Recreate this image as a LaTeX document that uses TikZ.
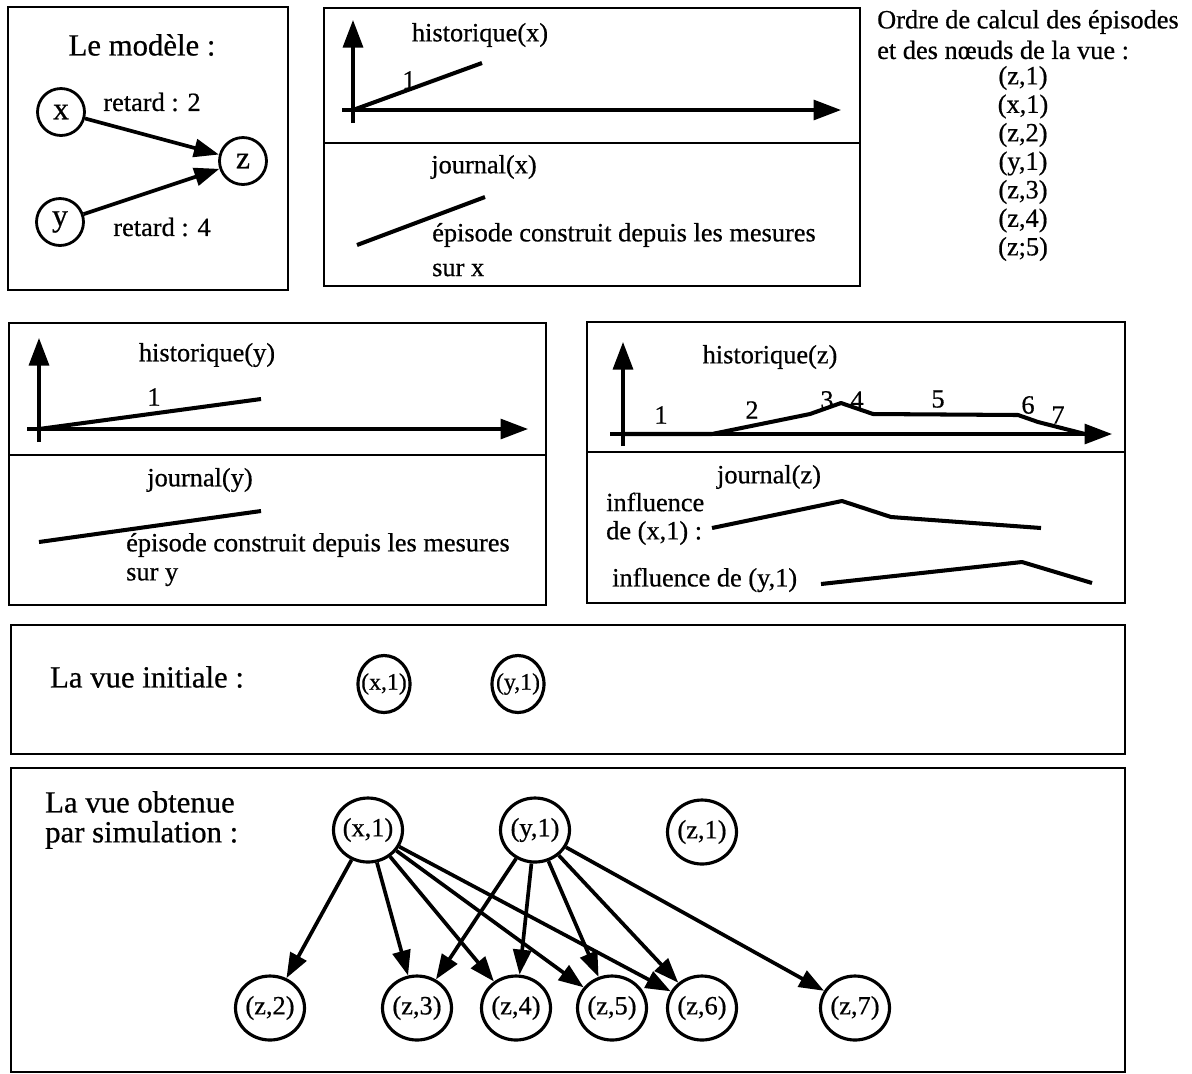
\documentclass[tikz,border=0pt]{standalone}
\usepackage{fontspec}
\setmainfont{Liberation Serif}[FakeBold=0.6]
\usetikzlibrary{arrows.meta,shapes.geometric}

\tikzset{
  cadre/.style={line width=1.6pt},
  axe/.style={line width=1.8pt,-{Triangle[length=0.55cm,width=0.4cm]}},
  courbe/.style={line width=2.3pt,line join=round},
  var/.style={circle,draw,line width=1.6pt,minimum size=0.94cm,inner sep=0pt,font=\fontsize{18}{18}\selectfont},
  noeud/.style={ellipse,draw,line width=1.8pt,minimum width=1.38cm,minimum height=1.28cm,inner sep=0pt},
  noeudini/.style={ellipse,draw,line width=1.8pt,minimum width=1.04cm,minimum height=1.14cm,inner sep=0pt,font=\fontsize{13.5}{14}\selectfont},
  lien/.style={line width=2.1pt,-{Triangle[length=0.5cm,width=0.36cm]}},
  grand/.style={font=\fontsize{17.5}{17}\selectfont}
}

\begin{document}
\begin{tikzpicture}[x=0.02cm,y=-0.02cm,font=\fontsize{15}{16}\selectfont]
\useasboundingbox (0,0) rectangle (1192,1073);

% le modele
\draw[cadre] (8,7) rectangle (288,290);
\node[grand] (titre) at (142,45) {Le modèle :};
\node[var] (x) at (61,112) {x};
\node[var] (y) at (60,222) {y};
\node[var] (z) at (243,161) {z};
\draw[lien] (x) -- (z);
\draw[lien] (y) -- (z);
\node (r2) at (152,102) {retard : 2};
\node (r4) at (162,227) {retard : 4};

% historique et journal de x
\draw[cadre] (324,8) rectangle (860,286);
\draw[cadre] (324,143) -- (860,143);
\draw[axe] (353,123) -- (353,20);
\draw[axe] (342,110) -- (841,110);
\draw[courbe] (353,110) -- (482,63);
\node (hx) at (480,35) {historique(x)};
\node (hx1) at (409,80) {1};
\node (jx) at (484,167) {journal(x)};
\draw[courbe] (357,245) -- (485,197);
\node[anchor=west] (ex) at (426,235) {épisode construit depuis les mesures};
\node[anchor=west] (sx) at (426,270) {sur x};

% ordre de calcul
\node[anchor=west] (ordre) at (871,22) {Ordre de calcul des épisodes};
\node[anchor=west] (ordre2) at (871,50) {et des nœuds de la vue :};
\foreach \lab [count=\i] in {{(z,1)},{(x,1)},{(z,2)},{(y,1)},{(z,3)},{(z,4)},{(z;5)}}
  \node (o\i) at (1023,49.5+28.5*\i) {\lab};

% historique et journal de y
\draw[cadre] (9,323) rectangle (546,605);
\draw[cadre] (9,455) -- (546,455);
\draw[axe] (39,442) -- (39,338);
\draw[axe] (27,429) -- (528,429);
\draw[courbe] (39,429) -- (261,399);
\node (hy) at (207,355) {historique(y)};
\node (hy1) at (154,397) {1};
\node (jy) at (200,480) {journal(y)};
\draw[courbe] (39,542) -- (261,511);
\node[anchor=west] (ey) at (120,545) {épisode construit depuis les mesures};
\node[anchor=west] (sy) at (120,577) {sur y};

% historique et journal de z
\draw[cadre] (587,322) rectangle (1125,603);
\draw[cadre] (587,452) -- (1125,452);
\draw[axe] (623,446) -- (623,342);
\draw[axe] (610,434) -- (1112,434);
\draw[courbe] (623,434) -- (712,434) -- (810,414) -- (841,403) -- (873,414)
  -- (1018,415) -- (1038,422) -- (1085,434);
\node (hz) at (770,357) {historique(z)};
\node (hz1) at (661,415) {1};
\node (hz2) at (752,410) {2};
\node (hz3) at (827,400) {3};
\node (hz4) at (857,400) {4};
\node (hz5) at (938,399) {5};
\node (hz6) at (1028,405) {6};
\node (hz7) at (1058,415) {7};
\node (jz) at (769,477) {journal(z)};
\node[anchor=west] (inf1) at (600,502) {influence};
\node[anchor=west] (inf1b) at (600,533) {de (x,1) :};
\draw[courbe] (712,528) -- (842,501) -- (891,517) -- (1041,528);
\node[anchor=west] (inf2) at (606,580) {influence de (y,1)};
\draw[courbe] (821,584) -- (1022,562) -- (1092,583);

% vue initiale
\draw[cadre] (11,625) rectangle (1125,754);
\node[grand] (vini) at (147,677) {La vue initiale :};
\node[noeudini] (ix) at (384,684) {\makebox[0pt]{(x,1)}};
\node[noeudini] (iy) at (518,684) {\makebox[0pt]{(y,1)}};

% vue obtenue
\draw[cadre] (11,768) rectangle (1125,1072);
\node[grand,anchor=west,align=left] (vobt) at (39,820) {La vue obtenue\\par simulation :};
\node[noeud] (x1) at (368,830) {\makebox[0pt]{(x,1)}};
\node[noeud] (y1) at (535,830) {\makebox[0pt]{(y,1)}};
\node[noeud] (z1) at (702,832) {\makebox[0pt]{(z,1)}};
\foreach \n/\px in {2/270,3/417,4/516,5/612,6/702,7/855}
  \node[noeud] (z\n) at (\px,1008) {\makebox[0pt]{(z,\n)}};
\foreach \n in {2,...,6}
  \draw[lien] (x1) -- (z\n);
\foreach \n in {3,...,7}
  \draw[lien] (y1) -- (z\n);
\end{tikzpicture}
\end{document}
